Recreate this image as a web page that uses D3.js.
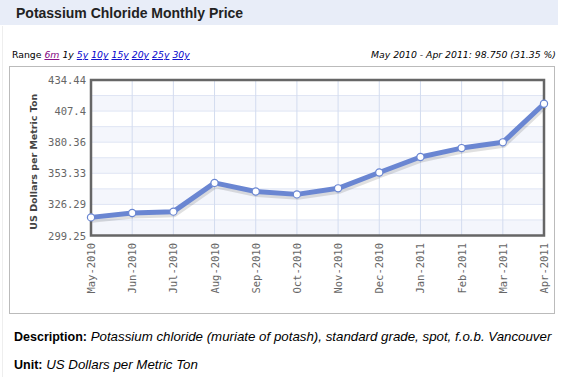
<!DOCTYPE html>
<html><head><meta charset="utf-8">
<script src="https://cdn.jsdelivr.net/npm/d3@7"></script>
<style>body{margin:0;background:#fff;}svg{display:block;}</style>
</head><body>
<script>
const months = ["May-2010","Jun-2010","Jul-2010","Aug-2010","Sep-2010","Oct-2010","Nov-2010","Dec-2010","Jan-2011","Feb-2011","Mar-2011","Apr-2011"];
const prices = [315.0, 318.75, 320.0, 345.0, 337.5, 335.0, 340.25, 354.0, 367.5, 375.25, 380.25, 413.75];
const yTicks = [299.25, 326.29, 353.33, 380.36, 407.4, 434.44];
const rangeLinks = ["6m","1y","5y","10y","15y","20y","25y","30y"];

const W = 564, H = 377;
const svg = d3.select("body").append("svg").attr("width", W).attr("height", H);

svg.append("line").attr("x1",2.5).attr("x2",2.5).attr("y1",26).attr("y2",H).attr("stroke","#eeeeee");
svg.append("rect").attr("x",0).attr("y",0).attr("width",558).attr("height",25).attr("fill","#e8edf8");
svg.append("text").attr("x",16).attr("y",18).attr("font-family","Arial, 'Liberation Sans', sans-serif")
  .attr("font-size",14).attr("font-weight","bold").attr("fill","#222").text("Potassium Chloride Monthly Price");

const rt = svg.append("text").attr("x",12).attr("y",58).attr("font-family","Verdana, 'DejaVu Sans', sans-serif").attr("font-size",9.3).attr("fill","#000");
rt.append("tspan").text("Range ");
rangeLinks.forEach((r,i)=>{
  const ts = rt.append("tspan").attr("font-style","italic").text(r);
  if (i===0) ts.attr("fill","#800080").attr("text-decoration","underline");
  else if (i===1) ts.attr("fill","#000");
  else ts.attr("fill","#0000cc").attr("text-decoration","underline");
  if (i<rangeLinks.length-1) rt.append("tspan").text(" ");
});
svg.append("text").attr("x",556).attr("y",58).attr("text-anchor","end")
  .attr("font-family","Verdana, 'DejaVu Sans', sans-serif").attr("font-size",9.3).attr("font-style","italic").attr("fill","#000")
  .text("May 2010 - Apr 2011: 98.750 (31.35 %)");

svg.append("rect").attr("x",9.5).attr("y",66.5).attr("width",545).attr("height",247).attr("fill","#fff").attr("stroke","#bbbbbb");

const L = 91, R = 544, T = 80, B = 235.5;
const x = d3.scalePoint().domain(months).range([L, R]);
const y = d3.scaleLinear().domain([yTicks[0], yTicks[yTicks.length-1]]).range([B, T]);

const step = (yTicks[1]-yTicks[0])/2;
const halfTicks = d3.range(0, 11).map(i => yTicks[0] + i*step);
for (let i=0;i<10;i++){
  if (i%2===1) continue;
  svg.append("rect").attr("x",L).attr("width",R-L)
    .attr("y",y(halfTicks[i+1])).attr("height",y(halfTicks[i])-y(halfTicks[i+1]))
    .attr("fill","#f4f6fc");
}
svg.append("g").selectAll("line").data(halfTicks).join("line")
  .attr("x1",L).attr("x2",R).attr("y1",d=>y(d)).attr("y2",d=>y(d)).attr("stroke","#dfe5f4").attr("stroke-width",1);
svg.append("g").selectAll("line").data(months).join("line")
  .attr("x1",d=>x(d)).attr("x2",d=>x(d)).attr("y1",T).attr("y2",B).attr("stroke","#d3dcef").attr("stroke-width",1);

const monoFont = "'DejaVu Sans Mono', 'Liberation Mono', monospace";
svg.append("g").selectAll("text").data(yTicks).join("text")
  .attr("x",86).attr("y",d=>y(d)+4).attr("text-anchor","end")
  .attr("font-family",monoFont).attr("font-size",10.5).attr("fill","#666")
  .text(d=>d3.format(".2f")(d).replace(/0$/,"").replace(/\.$/,""));
svg.append("g").selectAll("text").data(months).join("text")
  .attr("transform",d=>`translate(${x(d)+4},243) rotate(-90)`).attr("text-anchor","end")
  .attr("font-family",monoFont).attr("font-size",10.5).attr("fill","#666").text(d=>d);
svg.append("text").attr("transform",`translate(37,${(T+B)/2+4}) rotate(-90)`).attr("text-anchor","middle")
  .attr("font-family","Verdana, 'DejaVu Sans', sans-serif").attr("font-size",9.5).attr("font-weight","bold").attr("fill","#444")
  .text("US Dollars per Metric Ton");

const line = d3.line().x((d,i)=>x(months[i])).y(d=>y(d));
svg.append("path").datum(prices).attr("d",line).attr("fill","none").attr("stroke","#000").attr("stroke-opacity",0.12)
  .attr("stroke-width",5).attr("transform","translate(1,3)").attr("stroke-linejoin","round");
svg.append("path").datum(prices).attr("d",line).attr("fill","none").attr("stroke","#6a86d2")
  .attr("stroke-width",5).attr("stroke-linejoin","round");

svg.append("path").attr("d",`M${L},${T}V${B}H${R}V${T}Z`).attr("fill","none").attr("stroke","#666").attr("stroke-width",2.5);

svg.append("g").selectAll("circle").data(prices).join("circle")
  .attr("cx",(d,i)=>x(months[i])).attr("cy",d=>y(d)).attr("r",3.6)
  .attr("fill","#fff").attr("stroke","#6a86d2").attr("stroke-width",1.2);

const f2 = "Arial, 'Liberation Sans', sans-serif";
const d1 = svg.append("text").attr("x",14).attr("y",341).attr("font-family",f2).attr("font-size",12.5).attr("fill","#000");
d1.append("tspan").attr("font-weight","bold").text("Description:");
d1.append("tspan").attr("font-style","italic").attr("font-size",13.3).text(" Potassium chloride (muriate of potash), standard grade, spot, f.o.b. Vancouver");
const d2 = svg.append("text").attr("x",14).attr("y",369).attr("font-family",f2).attr("font-size",12.5).attr("fill","#000");
d2.append("tspan").attr("font-weight","bold").text("Unit:");
d2.append("tspan").attr("font-style","italic").attr("font-size",13.3).text(" US Dollars per Metric Ton");
</script>
</body></html>
